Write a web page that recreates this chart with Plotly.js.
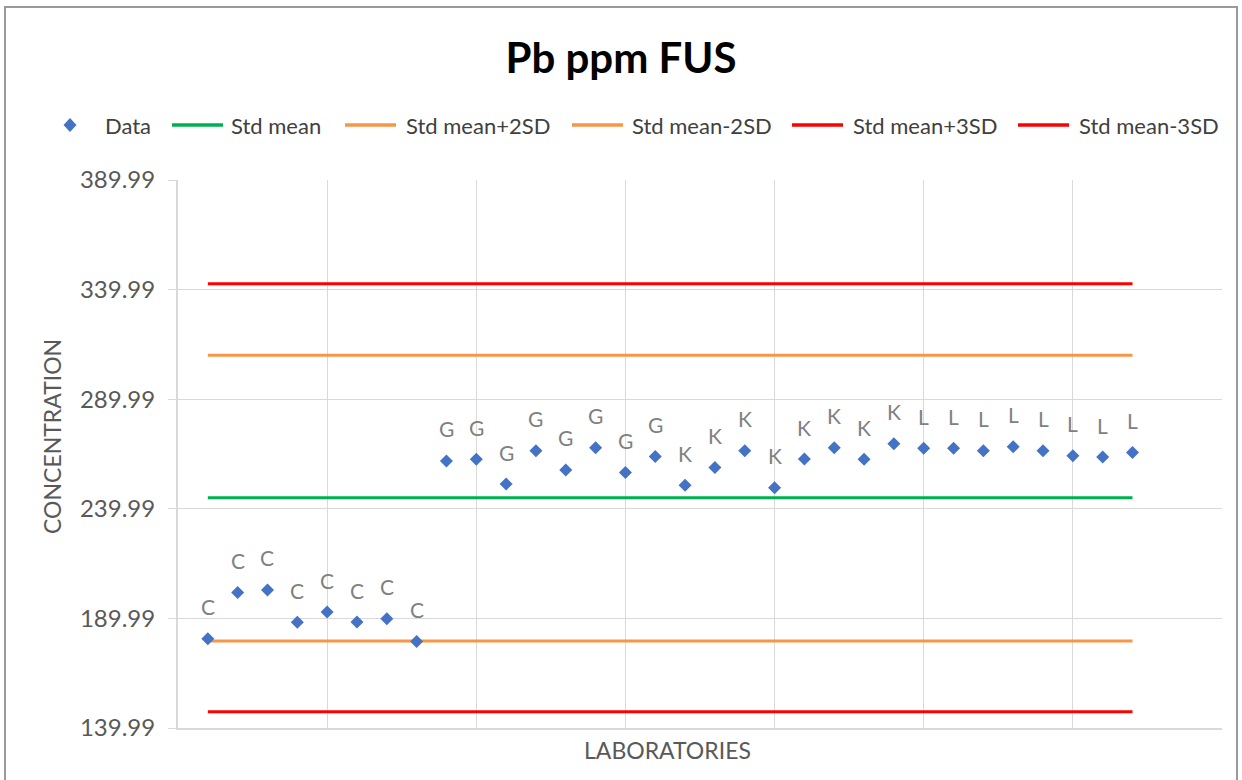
<!DOCTYPE html>
<html>
<head>
<meta charset="utf-8">
<script src="https://cdn.plot.ly/plotly-3.0.1.min.js"></script>
<style>html,body{margin:0;padding:0;background:#fff;}#chart{width:1242px;height:780px;}</style>
</head>
<body>
<div id="chart"></div>
<script>
// Laboratory sequence numbers (x positions on a 0..35 category scale)
var labIndex = [1,2,3,4,5,6,7,8,9,10,11,12,13,14,15,16,17,18,19,20,21,22,23,24,25,26,27,28,29,30,31,32];
// Laboratory group letter shown above each point
var labCodes = ["C","C","C","C","C","C","C","C",
                "G","G","G","G","G","G","G","G",
                "K","K","K","K","K","K","K","K",
                "L","L","L","L","L","L","L","L"];
// Reported Pb concentrations (ppm)
var dataValues = [180.7,201.8,203.0,188.2,192.9,188.3,189.8,179.4,
                  261.8,262.6,251.3,266.5,257.7,267.8,256.5,263.8,
                  250.7,258.8,266.5,249.6,262.7,267.8,262.6,269.7,
                  267.6,267.6,266.5,268.3,266.5,264.2,263.6,265.7];
// Standard statistics
var stdMean = 245.0;
var stdMeanPlus2SD = 310.0;
var stdMeanMinus2SD = 179.7;
var stdMeanPlus3SD = 342.7;
var stdMeanMinus3SD = 147.4;
// Y tick values
var yTicks = [139.99,189.99,239.99,289.99,339.99,389.99];
// Series names and colours
var seriesNames = ['Data','Std mean','Std mean+2SD','Std mean-2SD','Std mean+3SD','Std mean-3SD'];
var seriesColors = ['#4472C4','#00B050','#F79646','#F79646','#FF0000','#FF0000'];

var FONT = "Lato, 'Open Sans', 'Liberation Sans', sans-serif";

// plot area geometry in pixels (for layout-only placement of titles/legend)
var L = 178, R = 1222, T = 180, B = 728;
function px(p){ return (p - L) / (R - L); }
function py(p){ return (B - p) / (B - T); }

function constLine(k, value) {
  return {
    type: 'scatter', mode: 'lines', name: seriesNames[k], showlegend:false,
    x: labIndex, y: labIndex.map(function(){ return value; }),
    line: {color: seriesColors[k], width: 3}, hoverinfo: 'skip'
  };
}

var traces = [
  constLine(1, stdMean),
  constLine(2, stdMeanPlus2SD),
  constLine(3, stdMeanMinus2SD),
  constLine(4, stdMeanPlus3SD),
  constLine(5, stdMeanMinus3SD),
  {type:'scatter', mode:'markers', name:seriesNames[0], x: labIndex, y: dataValues, showlegend:false,
   marker:{symbol:'diamond', size:10, color:seriesColors[0]}}
];

var annotations = labIndex.map(function(xv, i){
  return {x: xv, y: dataValues[i], xref:'x', yref:'y', text: labCodes[i],
          showarrow:false, yshift:32, yanchor:'middle',
          font:{family:FONT, size:21, color:'#808080'}};
});

// axis titles
annotations.push({xref:'paper', yref:'paper', x:px(52), y:py(437), text:'CONCENTRATION', textangle:-90,
  showarrow:false, xanchor:'center', yanchor:'middle', font:{family:FONT, size:23, color:'#595959'}});
annotations.push({xref:'paper', yref:'paper', x:px(667), y:py(750), text:'LABORATORIES',
  showarrow:false, xanchor:'center', yanchor:'middle', font:{family:FONT, size:23, color:'#595959'}});

// legend (drawn manually to match spacing)
var legendY = 125;
var legendLineStart = [null, 172, 345, 572, 792, 1018];
var legendTextStart = [103, 229, 404, 630, 851, 1077];
var shapes = [];
for (var k = 0; k < seriesNames.length; k++) {
  annotations.push({xref:'paper', yref:'paper', x:px(legendTextStart[k]), y:py(legendY), text:seriesNames[k],
    showarrow:false, xanchor:'left', yanchor:'middle', font:{family:FONT, size:22, color:'#404040'}});
  if (k === 0) {
    var cx = 70, cy = legendY, hw = 6.5, hh = 7;
    shapes.push({type:'path', xref:'paper', yref:'paper',
      path:'M'+px(cx-hw)+','+py(cy)+' L'+px(cx)+','+py(cy-hh)+' L'+px(cx+hw)+','+py(cy)+' L'+px(cx)+','+py(cy+hh)+' Z',
      fillcolor:seriesColors[0], line:{width:0}});
  } else {
    shapes.push({type:'line', xref:'paper', yref:'paper', x0:px(legendLineStart[k]), x1:px(legendLineStart[k]+51),
      y0:py(legendY), y1:py(legendY), line:{color:seriesColors[k], width:3.5}});
  }
}
// chart frame
shapes.push({type:'rect', xref:'paper', yref:'paper', x0:px(5), x1:px(1237), y0:py(800), y1:py(7),
  line:{color:'#9A9A9A', width:2}, fillcolor:'rgba(0,0,0,0)', layer:'below'});

var layout = {
  width:1242, height:780,
  paper_bgcolor:'#ffffff', plot_bgcolor:'#ffffff',
  margin:{l:L, r:1242-R, t:T, b:780-B},
  font:{family:FONT, color:'#595959'},
  title:{text:'<b>Pb ppm FUS</b>', font:{family:FONT, size:42, color:'#000000'},
         x:0.5, xanchor:'center', y:1-58/780, yref:'container', yanchor:'middle'},
  showlegend:false,
  xaxis:{range:[0,35], tick0:0, dtick:5, showgrid:true, gridcolor:'#D9D9D9', gridwidth:1,
         showticklabels:false, ticks:'', zeroline:false, showline:true, linecolor:'#D9D9D9', linewidth:2,
         automargin:false},
  yaxis:{range:[139.99,389.99], tickvals:yTicks, tickformat:'.2f', showgrid:true,
         gridcolor:'#D9D9D9', gridwidth:1, zeroline:false, showline:true, linecolor:'#D9D9D9', linewidth:2,
         ticks:'outside', ticklen:8, tickcolor:'#D9D9D9', automargin:false,
         tickfont:{family:FONT, size:24, color:'#595959'}, ticklabelstandoff:8},
  annotations: annotations,
  shapes: shapes
};

Plotly.newPlot('chart', traces, layout, {staticPlot:true, displayModeBar:false});
</script>
</body>
</html>
